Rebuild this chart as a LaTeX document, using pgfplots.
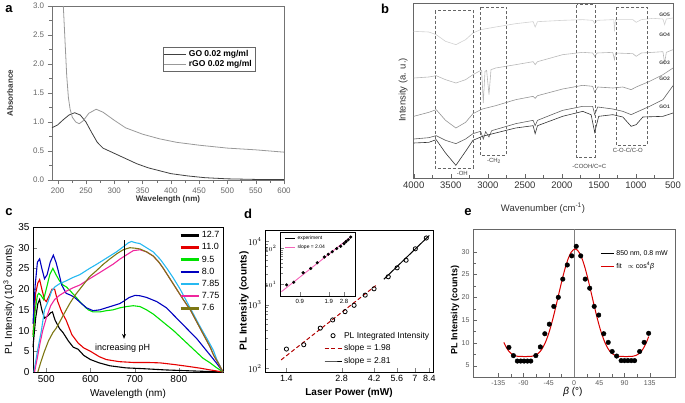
\documentclass[border=0pt]{standalone}
\usepackage{pgfplots}
\pgfplotsset{compat=1.18}
\usetikzlibrary{arrows.meta}
\usepackage{fontspec}
\setmainfont{Liberation Sans}
\begin{document}
\begin{tikzpicture}[x=1pt,y=1pt]
\useasboundingbox (0,0) rectangle (685,402);
\pgfplotsset{every axis/.append style={scale only axis, anchor=south west,
  /pgf/number format/assume math mode=true, /pgf/number format/set thousands separator={}, clip=false}}
% ---------------- panel labels
\node[font=\fontsize{13}{13}\selectfont\bfseries] at (9,393) {a};
\node[font=\fontsize{13}{13}\selectfont\bfseries] at (385,393) {b};
\node[font=\fontsize{13}{13}\selectfont\bfseries] at (9,190) {c};
\node[font=\fontsize{13}{13}\selectfont\bfseries] at (248,188) {d};
\node[font=\fontsize{13}{13}\selectfont\bfseries] at (468,190) {e};
% ---------------- panel a
\begin{axis}[at={(52pt,222pt)}, width=232pt, height=174pt,
  xmin=190, xmax=600, ymin=0, ymax=3,
  xtick={200,250,...,600}, ytick={0,0.5,...,3},
  yticklabel style={/pgf/number format/.cd,fixed,fixed zerofill,precision=1},
  tick label style={font=\fontsize{8}{8}\selectfont, text=black!60},
  axis line style={black!55}, tick style={black!55},
  tick align=outside, xtick pos=bottom, ytick pos=left,
  minor x tick num=1, minor y tick num=1,
  xlabel={Wavelength (nm)}, ylabel={Absorbance},
  label style={font=\fontsize{8}{9}\selectfont\bfseries, text=black!80},
  xlabel style={at={(axis description cs:0.5,-0.112)}, anchor=center},
  ylabel style={at={(axis description cs:-0.181,0.5)}, anchor=center},
  legend style={at={(0.478,0.764)}, anchor=north west, draw=black!60,
    font=\fontsize{8.5}{9}\selectfont\bfseries, inner sep=1pt, row sep=-1.5pt},
  legend cell align=left,
  legend image code/.code={\draw[#1] (0pt,0pt) -- (22pt,0pt);}]
\addplot[black!75, line width=0.8pt] coordinates {
(190,0.90) (200,0.95) (210,1.04) (220,1.12) (230,1.16) (240,1.12) (250,1.00)
(260,0.82) (270,0.65) (280,0.55) (300,0.46) (320,0.37) (340,0.28) (360,0.21)
(380,0.16) (400,0.11) (430,0.07) (460,0.04) (500,0.02) (550,0.01) (600,0.01)};
\addlegendentry{GO 0.02 mg/ml}
\addplot[black!40, line width=0.8pt] coordinates {
(210,3.0) (213,2.4) (216,1.8) (219,1.42) (222,1.22) (226,1.08) (232,1.00)
(238,0.97) (245,1.02) (255,1.15) (268,1.22) (280,1.17) (300,1.03) (320,0.90)
(350,0.79) (380,0.71) (410,0.65) (450,0.60) (500,0.55) (550,0.52) (600,0.48)};
\addlegendentry{rGO 0.02 mg/ml}
\end{axis}
% ---------------- panel b
\begin{axis}[at={(413pt,224pt)}, width=260pt, height=175pt,
  x dir=reverse, xmin=500, xmax=4010, ymin=0, ymax=525,
  xtick={500,1000,...,4000}, ytick=\empty,
  tick label style={font=\fontsize{9.5}{9.5}\selectfont, text=black!80},
  axis line style={black!60}, tick style={black!60},
  tick align=inside, xtick pos=bottom, minor x tick num=1,
  xlabel={Wavenumber (cm\textsuperscript{-1})}, ylabel={Intensity (a. u.)},
  label style={font=\fontsize{9.5}{9.5}\selectfont, text=black!80},
  xlabel style={at={(axis description cs:0.5,-0.171)}, anchor=center},
  ylabel style={at={(axis description cs:-0.038,0.503)}, anchor=center}]
\addplot[black!18, line width=0.6pt] coordinates {
(4000,440) (3797,438) (3697,430) (3571,410) (3431,400) (3300,415) (3201,435)
(3097,445) (2894,453) (2623,463) (2388,469) (2361,453) (2329,469) (1990,473)
(1719,475) (1584,473) (1557,463) (1525,473) (1313,475) (1299,475) (1290,440)
(1276,475) (1042,475) (997,467) (929,475) (771,479) (636,477) (613,460)
(590,477) (500,480)};
\addplot[black!28, line width=0.6pt] coordinates {
(4000,300) (3797,303) (3697,307) (3571,295) (3431,285) (3300,295) (3201,310)
(3119,320) (3083,323) (3061,225) (3038,320) (3016,323) (2984,250) (2957,325)
(2894,330) (2623,340) (2388,349) (2361,340) (2329,349) (1990,370) (1719,377)
(1584,375) (1557,365) (1525,375) (1313,377) (1290,355) (1276,375) (1042,373)
(997,365) (929,375) (771,377) (636,379) (613,345) (590,377) (500,385)};
\addplot[black!42, line width=0.6pt] coordinates {
(4000,185) (3797,197) (3697,205) (3571,173) (3431,150) (3300,167) (3201,193)
(3074,207) (2894,217) (2623,235) (2388,245) (2361,239) (2329,247) (1990,267)
(1719,278) (1584,275) (1557,257) (1516,273) (1313,270) (1178,273) (1065,265)
(997,273) (816,290) (636,310) (500,330)};
\addplot[black!62, line width=0.6pt] coordinates {
(4000,117) (3797,121) (3697,127) (3571,113) (3431,103) (3300,117) (3201,133)
(3097,140) (3061,117) (3029,139) (2984,123) (2948,142) (2623,163) (2388,173)
(2361,157) (2329,173) (1990,203) (1719,215) (1584,215) (1557,190) (1516,213)
(1313,207) (1178,200) (1065,190) (997,197) (816,215) (636,235) (500,277)};
\addplot[black!80, line width=0.6pt] coordinates {
(4000,105) (3797,107) (3697,115) (3571,75) (3431,38) (3300,80) (3201,113)
(3074,125) (2894,135) (2623,150) (2388,157) (2361,133) (2329,157) (1990,185)
(1719,200) (1606,190) (1557,137) (1503,185) (1313,190) (1178,183) (1065,155)
(997,160) (907,183) (636,185) (500,195)};
\draw[black!60, densely dashed, line width=0.4pt] (axis cs:3715,502) rectangle (axis cs:3201,30);
\draw[black!60, densely dashed, line width=0.4pt] (axis cs:3097,513) rectangle (axis cs:2749,68);
\draw[black!60, densely dashed, line width=0.4pt] (axis cs:1801,520) rectangle (axis cs:1552,63);
\draw[black!60, densely dashed, line width=0.4pt] (axis cs:1268,513) rectangle (axis cs:852,98);
\begin{scope}[every node/.style={font=\fontsize{6}{6}\selectfont, text=black!75}]
\node at (axis cs:3345,15) {-OH};
\node at (axis cs:2916,52) {-CH\textsubscript{2}};
\node at (axis cs:1629,35) {-COOH/C=C};
\node at (axis cs:1110,82) {C-O-C/C-O};
\end{scope}
\begin{scope}[every node/.style={font=\fontsize{5}{5}\selectfont\bfseries, text=black!75}]
\node at (axis cs:613,490) {GO5};
\node at (axis cs:613,430) {GO4};
\node at (axis cs:613,345) {GO3};
\node at (axis cs:613,298) {GO2};
\node at (axis cs:613,213) {GO1};
\end{scope}
\end{axis}
% ---------------- panel c
\begin{axis}[at={(33pt,30pt)}, width=190pt, height=145pt,
  xmin=470, xmax=900, ymin=0, ymax=35,
  xtick={500,600,700,800}, ytick={0,5,...,35},
  tick label style={font=\fontsize{10}{10}\selectfont},
  tick align=inside, xtick pos=bottom, ytick pos=left,
  xlabel={Wavelength (nm)}, ylabel={PL Intensity (10\textsuperscript{3} counts)},
  label style={font=\fontsize{10}{10}\selectfont},
  xlabel style={at={(axis description cs:0.5,-0.148)}, anchor=center},
  ylabel style={at={(axis description cs:-0.128,0.5)}, anchor=center},
  legend style={at={(0.993,0.985)}, anchor=north east, draw=none, fill=none,
    font=\fontsize{9}{9}\selectfont, inner sep=0pt, row sep=0.4pt},
  legend cell align=left,
  legend image code/.code={\draw[#1, line width=2.6pt] (0pt,0pt) -- (18pt,0pt);}]
\addplot[black, line width=1.1pt] coordinates {
(470,6) (476,13) (481,16.5) (485,17.5) (490,15) (496,13) (503,13.5) (510,14.3)
(514,14.5) (520,12.5) (530,10.5) (538,9.5) (550,7.5) (561,6) (572,5.5) (585,4) (600,3)
(620,2.2) (644,1.5) (680,1.0) (720,0.8) (770,0.5) (820,0.3) (860,0.15) (900,0)};
\addlegendentry{12.7}
\addplot[red!90!black, line width=1.1pt] coordinates {
(470,9) (476,19) (481,21.5) (485,22.3) (490,20) (496,17.5) (500,17) (507,18.5)
(513,20) (519,20) (526,17) (535,14.5) (545,12.5) (558,9) (572,7) (585,5.8)
(600,5) (620,3.7) (636,3) (665,2.5) (697,2.3) (730,2.3) (758,2.2) (790,1.8)
(818,1.4) (850,0.9) (871,0.5) (900,0)};
\addlegendentry{11.0}
\addplot[green!85!black!75!green, line width=1.1pt] coordinates {
(470,8.5) (475,15) (480,18.5) (483,19) (488,18.5) (494,17.5) (500,20) (508,23.5)
(515,25) (522,23.5) (530,22) (538,21) (546,20.5) (555,19.5) (568,18) (580,16.5)
(595,15) (606,14.5) (621,14.5) (636,14.8) (651,15) (667,15.5) (682,15.8)
(697,16) (712,15.8) (727,15) (742,14) (765,12) (788,10) (810,7.8) (833,5.5)
(855,3.3) (871,2.2) (886,1) (900,0)};
\addlegendentry{9.5}
\addplot[blue!75!black, line width=1.1pt] coordinates {
(470,11.7) (475,21) (480,26.5) (485,27.3) (490,25) (496,22.5) (502,23.5) (509,26.5)
(516,28.2) (522,26.5) (527,24.5) (535,21) (545,19) (556,18.5) (564,18) (580,16.5)
(591,15.5) (606,14.8) (621,15) (636,15.5) (651,16) (666,16.5) (674,17)
(688,18) (701,18.5) (712,18.4) (727,18) (750,17) (772,15.5) (795,13) (818,10.5)
(841,8) (860,5.5) (879,3) (890,1.5) (900,0)};
\addlegendentry{8.0}
\addplot[cyan!85!white, line width=1.1pt] coordinates {
(472,0) (480,5) (489,10) (496,15) (504,17) (512,19.5) (519,20.5) (530,21.3)
(545,22) (560,22.8) (576,23.5) (598,25) (614,26) (629,27) (644,28) (659,29)
(674,30.2) (686,31.2) (693,31.5) (702,31.2) (712,31) (727,30) (742,29) (758,27.2)
(773,25) (788,22.6) (803,20) (818,17) (833,14) (848,11) (864,8) (878,5.3) (886,3) (900,0)};
\addlegendentry{7.85}
\addplot[magenta!85!white, line width=1.1pt] coordinates {
(473.5,0) (480,3.5) (486,7) (492,10) (500,13) (510,16) (519,17.5) (530,18.5)
(545,19.5) (560,20.3) (576,21) (598,22.5) (621,24) (636,25) (651,26) (666,27.2)
(682,28.3) (697,29.3) (712,29.5) (727,29) (742,28) (755,26.5) (765,25) (780,22.5)
(795,20) (810,17.5) (826,15) (841,12) (856,9) (871,6) (879,4) (890,2) (900,0)};
\addlegendentry{7.75}
\addplot[olive!85!black, line width=1.1pt] coordinates {
(481,0) (488,2.5) (496,5) (505,7.5) (515,9.5) (522,10.5) (530,12) (540,14)
(553,16.5) (565,18.5) (576,20) (598,23) (614,24.5) (629,26) (644,27.3) (659,28.5)
(674,29.5) (689,30) (700,29.9) (712,29.7) (727,29) (742,28) (755,26.5) (765,25)
(780,22.5) (795,20) (810,17.5) (826,15) (841,12) (856,9) (871,6) (879,4) (890,2) (900,0)};
\addlegendentry{7.6}
\draw[-{Stealth[length=5pt,width=4pt]}, line width=0.8pt] (axis cs:676,31.8) -- (axis cs:676,8);
\node[font=\fontsize{9}{9}\selectfont] at (axis cs:673,5.8) {increasing pH};
\end{axis}
% ---------------- panel d
\begin{axis}[at={(265pt,30pt)}, width=168pt, height=142pt,
  xmode=log, ymode=log, xmin=1.07, xmax=8.8, ymin=87, ymax=15000,
  xtick={1.4,2.8,4.2,5.6,7,8.4}, xticklabels={1.4,2.8,4.2,5.6,7,8.4},
  xminorticks=false,
  ytick={100,1000,10000},
  tick label style={font=\fontsize{9}{9}\selectfont},
  tick align=inside, xtick pos=bottom, ytick pos=left,
  xlabel={Laser Power (mW)}, ylabel={PL Intensity (counts)},
  label style={font=\fontsize{10}{10}\selectfont\bfseries},
  xlabel style={at={(axis description cs:0.5,-0.148)}, anchor=center},
  ylabel style={at={(axis description cs:-0.125,0.5)}, anchor=center},
  legend style={at={(0.99,0.035)}, anchor=south east, draw=none, fill=none,
    font=\fontsize{8.5}{9}\selectfont, inner sep=0pt, row sep=1pt},
  legend cell align=left]
\addplot[only marks, mark=o, mark size=2.1pt, line width=0.8pt, black] coordinates {
(1.40,200) (1.74,234) (2.14,427) (2.50,575) (2.92,776) (3.27,977) (3.76,1413)
(4.20,1778) (5.02,2754) (5.61,3802) (6.28,5012) (7.05,7586) (8.09,11220)};
\addlegendentry{PL Integrated Intensity}
\addplot[red!70!black, line width=1pt, dash pattern=on 4pt off 2.5pt] coordinates {(1.31,135) (4.29,1995)};
\addlegendentry{slope = 1.98}
\addplot[black, line width=1pt] coordinates {(4.75,2512) (8.4,12303)};
\addlegendentry{slope = 2.81}
\end{axis}
% inset
\begin{axis}[at={(280pt,106pt)}, width=75pt, height=64pt,
  axis background/.style={fill=white},
  xmode=log, ymode=log, xmin=0.54, xmax=3.72, ymin=4.7, ymax=290,
  xtick={0.9,1.9,2.8}, xticklabels={0.9,1.9,2.8}, xminorticks=false,
  ytick={10,100},
  tick label style={font=\fontsize{6}{6}\selectfont},
  tick align=inside, xtick pos=bottom, ytick pos=left,
  legend style={at={(0.06,0.98)}, anchor=north west, draw=none, fill=none,
    font=\fontsize{5}{5}\selectfont, inner sep=0pt, row sep=0.5pt},
  legend cell align=left,
  legend image code/.code={\draw[#1] (0pt,0pt) -- (10pt,0pt);}]
\addplot[only marks, mark=*, mark size=1.4pt, black] coordinates {
(0.64,9.6) (0.77,11.4) (0.98,21) (1.19,27.7) (1.41,40) (1.69,58) (1.87,69)
(2.07,81) (2.32,100) (2.57,116) (2.80,137) (2.95,156) (3.13,176) (3.33,209)};
\addlegendentry{experiment}
\addplot[magenta!60!white, line width=0.9pt] coordinates {(0.56,6.2) (3.39,219)};
\addlegendentry{slope = 2.04}
\end{axis}
% ---------------- panel e
\begin{axis}[at={(473pt,25pt)}, width=202pt, height=148pt,
  xmin=-180, xmax=180, ymin=2.5, ymax=35,
  xtick={-135,-90,...,135}, ytick={5,10,...,30},
  minor x tick num=1, minor y tick num=1,
  tick label style={font=\fontsize{7}{7}\selectfont, text=black!65},
  axis line style={black!60}, tick style={black!60},
  tick align=inside, xtick pos=bottom, ytick pos=left,
  xlabel={\textit{β} (°)}, ylabel={PL Intensity (counts)},
  xlabel style={at={(axis description cs:0.495,-0.10)}, anchor=center, font=\fontsize{10}{10}\selectfont},
  ylabel style={at={(axis description cs:-0.089,0.45)}, anchor=center, font=\fontsize{9}{9}\selectfont\bfseries},
  legend style={at={(0.975,0.87)}, anchor=north east, draw=none, fill=none,
    font=\fontsize{7}{7}\selectfont, inner sep=0pt, row sep=1.5pt},
  legend cell align=left,
  legend image code/.code={\draw[#1] (0pt,0pt) -- (13pt,0pt);}]
\draw[black!50, line width=0.4pt] (axis cs:0,2.5) -- (axis cs:0,35);
\addplot[only marks, mark=*, mark size=2.3pt, black] coordinates {
(-116,9.0) (-108,7.2) (-101,6.0) (-95,6.0) (-89,6.0) (-83,6.0) (-77,6.0)
(-68,7.2) (-60,9.1) (-52,12.0) (-44,14.1) (-36,18.0) (-28,20.0) (-20,24.0)
(-12,27.1) (-4,29.1) (4,31.2) (12,29.1) (20,24.0) (28,22.0) (36,18.0) (44,16.1)
(53,12.0) (61,10.1) (68,8.1) (76,7.1) (84,6.1) (90,6.1) (96,6.1) (102,6.1) (108,6.1)
(117,8.1) (125,10.1) (133,12.1)};
\addlegendentry{850 nm, 0.8 mW}
\addplot[red!85!black, line width=1pt, smooth] coordinates {
(-125,10.10) (-120,8.86) (-115,8.00) (-110,7.46) (-105,7.17) (-100,7.04) (-95,7.01)
(-90,7.0) (-85,7.0) (-80,7.01) (-75,7.06) (-70,7.22) (-65,7.55) (-60,8.15) (-55,9.08)
(-50,10.39) (-45,12.10) (-40,14.20) (-35,16.60) (-30,19.21) (-25,21.87) (-20,24.44)
(-15,26.74) (-10,28.60) (-5,29.90) (0,30.54) (2,30.6) (5,30.47) (10,29.70) (15,28.27)
(20,26.31) (25,23.94) (30,21.34) (35,18.68) (40,16.10) (45,13.75) (50,11.73) (55,10.10)
(60,8.86) (65,8.00) (70,7.46) (75,7.17) (80,7.04) (85,7.01) (90,7.0) (95,7.0) (100,7.01)
(105,7.06) (110,7.22) (115,7.55) (120,8.15) (125,9.08) (130,10.39) (133,11.37)};
\addlegendentry{fit\ \ \ $\propto$ cos\textsuperscript{4}\textit{β}}
\end{axis}
\end{tikzpicture}
\end{document}
